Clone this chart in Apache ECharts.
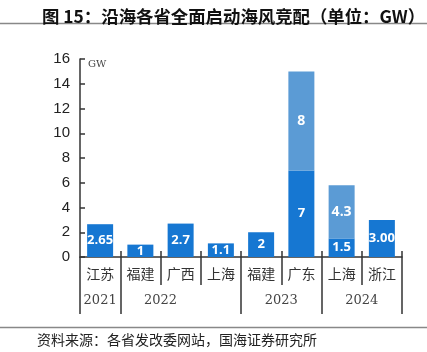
<!DOCTYPE html>
<html lang="zh">
<head>
    <meta charset="utf-8"/>
    <title>沿海各省全面启动海风竞配</title>
    <script src="https://cdn.jsdelivr.net/npm/echarts@6/dist/echarts.min.js"></script>
    <style>
        html, body { margin: 0; padding: 0; background: #fff; }
        #chart { width: 427px; height: 352px; }
    </style>
</head>
<body>
<div id="chart"></div>
<script>
    // 数据
    const provinces = ['江苏', '福建', '广西', '上海', '福建', '广东', '上海', '浙江'];
    const baseValues = [2.65, 1, 2.7, 1.1, 2, 7, 1.5, 3.00];
    const baseLabels = ['2.65', '1', '2.7', '1.1', '2', '7', '1.5', '3.00'];
    const topValues = ['-', '-', '-', '-', '-', 8, 4.3, '-'];
    const topLabels = ['', '', '', '', '', '8', '4.3', ''];
    const years = ['2021', '2022', '2023', '2024'];
    const yearCenters = [0.5, 2, 5, 7];
    const yearBounds = [0, 1, 4, 6, 8];
    const yTicks = [0, 2, 4, 6, 8, 10, 12, 14, 16];

    const axisColor = '#333';
    const chart = echarts.init(document.getElementById('chart'), null, { renderer: 'canvas' });
    const option = {
        animation: false,
        backgroundColor: '#fff',
        title: {
            text: '图 15：沿海各省全面启动海风竞配（单位：GW）',
            left: 37,
            top: 3,
            textStyle: { fontSize: 17.4, fontWeight: 'bold', color: '#111', fontFamily: 'Noto Sans CJK SC' }
        },
        graphic: [
            { type: 'line', shape: { x1: 0, y1: 23.5, x2: 427, y2: 23.5 }, style: { stroke: '#888', lineWidth: 1.5 } },
            { type: 'line', shape: { x1: 0, y1: 327.5, x2: 427, y2: 327.5 }, style: { stroke: '#888', lineWidth: 1.5 } },
            { type: 'text', left: 37, top: 333, style: { text: '资料来源：各省发改委网站，国海证券研究所', fontSize: 14, fill: '#222', fontFamily: 'Noto Sans CJK SC' } }
        ],
        grid: { left: 80, right: 25, top: 59, bottom: 95, containLabel: false },
        xAxis: [
            {
                type: 'category',
                data: provinces,
                axisLine: { lineStyle: { color: axisColor, width: 1.5 } },
                axisTick: { show: true, length: 28, lineStyle: { color: axisColor, width: 1.5 } },
                axisLabel: { margin: 10, fontSize: 14, color: '#333', fontFamily: 'Noto Sans CJK SC' }
            },
            {
                type: 'category',
                data: provinces,
                position: 'bottom',
                axisLine: { show: false },
                axisTick: { show: true, inside: true, length: 6, lineStyle: { color: axisColor, width: 1.5 },
                    interval: function (i) { return i > 0; } },
                axisLabel: { show: false }
            },
            {
                type: 'value',
                position: 'bottom',
                min: 0,
                max: 8,
                splitLine: { show: false },
                axisLine: { show: false },
                axisTick: { show: true, length: 57, customValues: yearBounds, lineStyle: { color: axisColor, width: 1.5 } },
                axisLabel: {
                    margin: 37,
                    fontSize: 13,
                    color: '#444',
                    fontFamily: 'DejaVu Serif',
                    customValues: yearCenters,
                    formatter: function (v) { return years[yearCenters.indexOf(v)] || ''; }
                }
            }
        ],
        yAxis: {
            type: 'value',
            min: 0,
            max: 16,
            interval: 2,
            name: 'GW',
            nameLocation: 'end',
            nameGap: -10,
            nameTextStyle: { fontSize: 10, color: '#444', fontFamily: 'DejaVu Serif', align: 'left', padding: [0, 0, 0, 8] },
            splitLine: { show: false },
            axisLine: { show: true, lineStyle: { color: axisColor, width: 1.5 } },
            axisTick: { show: true, inside: true, length: 5, lineStyle: { color: axisColor, width: 1.5 } },
            axisLabel: { fontSize: 15, color: '#222', margin: 10, fontFamily: 'Liberation Sans',
                customValues: yTicks }
        },
        series: [
            {
                type: 'bar',
                stack: 'total',
                data: baseValues,
                barWidth: 26,
                itemStyle: { color: '#1677d2' },
                label: {
                    show: true, position: 'inside', color: '#fff', fontSize: 13, fontWeight: 'bold',
                    fontFamily: 'Open Sans',
                    formatter: function (p) { return baseLabels[p.dataIndex]; }
                }
            },
            {
                type: 'bar',
                stack: 'total',
                data: topValues,
                barWidth: 26,
                itemStyle: { color: '#5b9bd5' },
                label: {
                    show: true, position: 'inside', color: '#fff', fontSize: 14, fontWeight: 'bold',
                    fontFamily: 'Open Sans',
                    formatter: function (p) { return topLabels[p.dataIndex]; }
                }
            }
        ]
    };
    chart.setOption(option);
</script>
</body>
</html>
